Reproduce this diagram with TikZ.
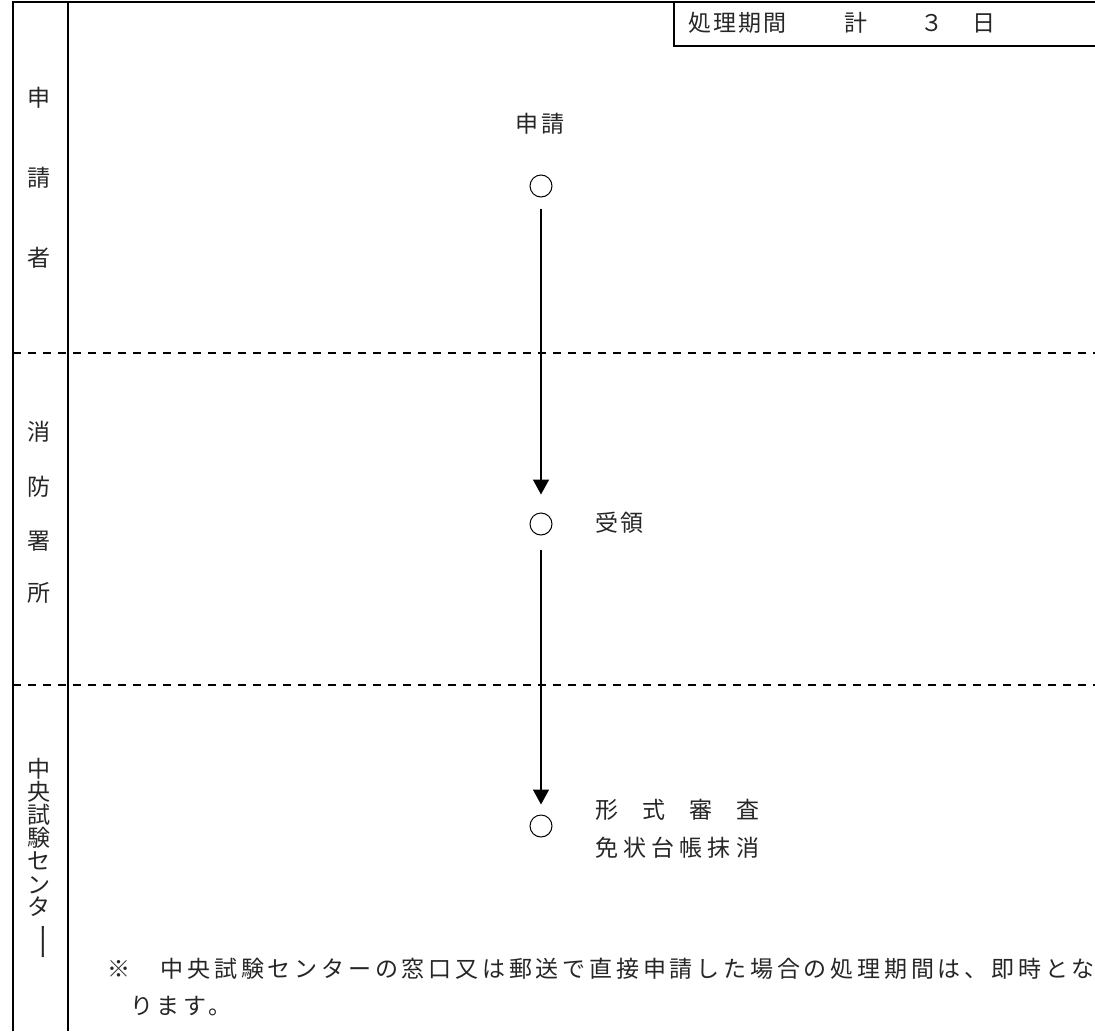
\documentclass[tikz,border=0pt]{standalone}
\usepackage{fontspec}
\usepackage{graphicx}
\usetikzlibrary{arrows.meta}
\newfontfamily\jp[LetterSpace=9]{Noto Sans CJK JP}
\newfontfamily\jpn[LetterSpace=16.5]{Noto Sans CJK JP}
\newfontfamily\jpplain{Noto Sans CJK JP}
\begin{document}
\begin{tikzpicture}[x=1pt,y=-1pt,
  border/.style={line width=2pt},
  lanesep/.style={line width=2.6pt, dash pattern=on 8pt off 7pt},
  txt/.style={font=\jp\fontsize{23}{23}\selectfont, inner sep=0pt, text=black!85},
  notetxt/.style={font=\jpn\fontsize{23}{23}\selectfont, inner sep=0pt, text=black!85},
  plaintxt/.style={font=\jpplain\fontsize{23}{23}\selectfont, inner sep=0pt, text=black!85},
  lane/.style={txt},
  event/.style={circle, draw, line width=1pt, minimum size=22pt, inner sep=0pt},
  flow/.style={line width=1.6pt, -{Triangle[length=15pt,width=16pt]}}
]
\useasboundingbox (0,0) rectangle (1095,1031);
\fill[white] (0,0) rectangle (1095,1031);

% frame
\draw[border] (13,1031) -- (13,2) -- (1095,2);
\draw[border] (68,2) -- (68,1031);
\draw[border] (674,2) -- (674,46) -- (1095,46);
\draw[lanesep] (13,353) -- (1095,353);
\draw[lanesep] (13,685) -- (1095,685);

% period box
\node[txt, anchor=west] (period) at (688,23) {処理期間};
\node[txt] (kei) at (856,23) {計};
\node[txt] (num) at (932,23) {３};
\node[txt] (day) at (984,23) {日};

% lane labels
\node[lane] (a1) at (39,98) {申};
\node[lane] (a2) at (39,178) {請};
\node[lane] (a3) at (39,258) {者};
\node[lane] (b1) at (39,432) {消};
\node[lane] (b2) at (39,487) {防};
\node[lane] (b3) at (39,541) {署};
\node[lane] (b4) at (39,593) {所};
\node[lane] (c1l) at (39,769) {中};
\node[lane] (c2l) at (39,792) {央};
\node[lane] (c3l) at (39,815) {試};
\node[lane] (c4l) at (39,838) {験};
\node[lane] (c5l) at (39,861) {セ};
\node[lane] (c6l) at (39,885) {ン};
\node[lane] (c7l) at (39,907) {タ};
\node[lane, rotate=-90] (c8l) at (39,942) {\scalebox{1.7}[1]{ー}};

% flow
\node[txt] (t1) at (540,124) {申請};
\node[event] (e1) at (541,186) {};
\node[event] (e2) at (541,524) {};
\node[event] (e3) at (541,826) {};
\node[txt, anchor=west] (t2) at (595,523) {受領};
\node[plaintxt, anchor=west] (t3a) at (595,810) {\makebox[164pt][s]{形\hfill 式\hfill 審\hfill 査}};
\node[plaintxt, anchor=west] (t3b) at (595,848) {\makebox[164pt][s]{免\hfill 状\hfill 台\hfill 帳\hfill 抹\hfill 消}};

\draw[flow, shorten <=11pt, shorten >=18pt] (e1) -- (e2);
\draw[flow, shorten <=14pt, shorten >=10pt] (e2) -- (e3);

% note
\node[notetxt, anchor=west] (note1) at (107,969) {※　中央試験センターの窓口又は郵送で直接申請した場合の処理期間は、即時とな\kern-4pt};
\node[notetxt, anchor=west] (note2) at (130,1006) {ります。};
\end{tikzpicture}
\end{document}
